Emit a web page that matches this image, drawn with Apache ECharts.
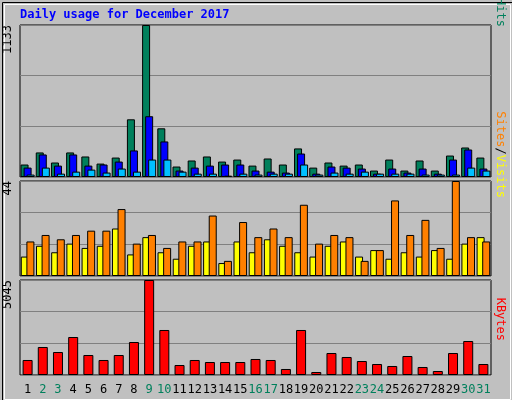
<!DOCTYPE html>
<html><head><meta charset="utf-8">
<script src="https://cdn.jsdelivr.net/npm/echarts@6/dist/echarts.min.js"></script>
<style>html,body{margin:0;padding:0;background:#c0c0c0}#c{width:512px;height:400px}</style>
</head><body><div id="c"></div>
<script>
const days = ['1','2','3','4','5','6','7','8','9','10','11','12','13','14','15','16','17','18','19','20','21','22','23','24','25','26','27','28','29','30','31'];
const weekend = ['2','3','9','10','16','17','23','24','30','31'];
const hits  = [93,183,108,183,153,100,145,430,1133,363,78,123,153,115,130,85,138,93,213,70,108,85,93,48,130,48,123,48,160,220,145];
const files = [70,168,85,168,85,93,115,198,453,265,48,70,85,93,93,48,40,33,175,25,78,70,63,25,63,33,63,25,130,205,63];
const pages = [18,70,25,40,55,33,63,40,130,130,40,25,25,10,25,18,25,25,93,18,33,25,40,25,25,25,18,18,18,70,48];
const sites  = [9,14,11,15,13,14,22,10,18,11,8,14,16,6,16,11,17,14,11,9,14,16,9,12,8,11,9,12,8,15,18];
const visits = [16,19,17,19,21,21,31,15,19,13,16,16,28,7,25,18,22,18,33,15,19,18,7,12,35,19,26,13,44,18,16];
const kbytes = [797,1487,1221,2018,1062,797,1062,1752,5045,2390,531,797,690,690,690,850,797,319,2390,159,1168,956,743,584,478,1009,425,212,1168,1805,584];
const maxHits = 1133, maxVisits = 44, maxKB = 5045;

const ff = 'DejaVu Sans Mono, monospace';
const grids = [
  {left:20, right:21, top:25, height:152},
  {left:20, right:21, top:181, height:95},
  {left:20, right:21, top:280, height:95}
];
function xa(i, show){return {type:'category', gridIndex:i, data:days, axisTick:{show:false}, axisLine:{show:false},
  axisLabel:{show:show, interval:0, fontFamily:ff, fontSize:12, margin:9,
    color:(v)=>weekend.includes(v)?'#00805c':'#000'}};}
function ya(i, max){return {type:'value', gridIndex:i, min:0, max:max, interval:max/3, axisLabel:{show:false},
  splitLine:{lineStyle:{color:'#808080', width:1}}, axisLine:{show:false}, axisTick:{show:false}};}
const bs = (c)=>({color:c, borderColor:'#000', borderWidth:1});
const chart = echarts.init(document.getElementById('c'));
chart.setOption({
  backgroundColor:'#c0c0c0', animation:false,
  grid: grids.map(g=>Object.assign({show:true, borderColor:'#000', borderWidth:1, backgroundColor:'#c0c0c0'}, g)),
  xAxis:[xa(0,false), xa(1,false), xa(2,true)],
  yAxis:[ya(0,maxHits), ya(1,maxVisits), ya(2,maxKB)],
  series:[
    {type:'bar', xAxisIndex:0, yAxisIndex:0, data:hits, barWidth:8, barGap:'-62%', itemStyle:bs('#00805c')},
    {type:'bar', xAxisIndex:0, yAxisIndex:0, data:files, barWidth:8, barGap:'-62%', itemStyle:bs('#0000ff')},
    {type:'bar', xAxisIndex:0, yAxisIndex:0, data:pages, barWidth:8, barGap:'-62%', itemStyle:bs('#00c0ff')},
    {type:'bar', xAxisIndex:1, yAxisIndex:1, data:sites, barWidth:8, barGap:'-30%', itemStyle:bs('#ffff00')},
    {type:'bar', xAxisIndex:1, yAxisIndex:1, data:visits, barWidth:8, barGap:'-30%', itemStyle:bs('#ff8000')},
    {type:'bar', xAxisIndex:2, yAxisIndex:2, data:kbytes, barWidth:10, itemStyle:bs('#ff0000')}
  ],
  graphic:[
    {type:'rect', left:0, top:0, shape:{width:511, height:399}, style:{fill:'none', stroke:'#000', lineWidth:1}},
    {type:'rect', left:2, top:2, shape:{width:506, height:395}, style:{fill:'none', stroke:'#fff', lineWidth:1}},
    {type:'text', left:20, top:9, style:{text:'Daily usage for December 2017', fill:'#0000ff', font:'bold 12px '+ff}},
    {type:'text', x:8, y:25, rotation:Math.PI/2, style:{text:String(maxHits), fill:'#000', font:'12px '+ff, align:'right', verticalAlign:'middle'}},
    {type:'text', x:8, y:181, rotation:Math.PI/2, style:{text:String(maxVisits), fill:'#000', font:'12px '+ff, align:'right', verticalAlign:'middle'}},
    {type:'text', x:8, y:280, rotation:Math.PI/2, style:{text:String(maxKB), fill:'#000', font:'12px '+ff, align:'right', verticalAlign:'middle'}},
    {type:'text', x:500, y:27, rotation:-Math.PI/2, style:{rich:{
      a:{fill:'#00c0ff', font:'12px '+ff}, b:{fill:'#000', font:'12px '+ff}, c:{fill:'#0000ff', font:'12px '+ff}, d:{fill:'#00805c', font:'12px '+ff}},
      text:'{a|Pages}{b|/}{c|Files}{b|/}{d|Hits}', align:'right', verticalAlign:'middle'}},
    {type:'text', x:500, y:198, rotation:-Math.PI/2, style:{rich:{
      a:{fill:'#ff8000', font:'12px '+ff}, b:{fill:'#000', font:'12px '+ff}, c:{fill:'#ffff00', font:'12px '+ff}},
      text:'{a|Sites}{b|/}{c|Visits}', align:'right', verticalAlign:'middle'}},
    {type:'text', x:500, y:341, rotation:-Math.PI/2, style:{text:'KBytes', fill:'#ff0000', font:'12px '+ff, align:'right', verticalAlign:'middle'}}
  ]
});
</script></body></html>
